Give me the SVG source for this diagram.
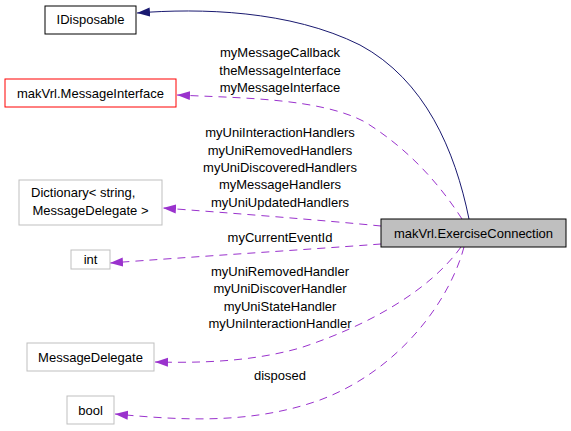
<svg xmlns="http://www.w3.org/2000/svg" width="571" height="431" viewBox="0 0 571 431">
<style>
.n rect{fill:#fff;stroke:#bfbfbf;stroke-width:1}
text{font-family:"Liberation Sans",Arial,sans-serif;font-size:13px;fill:#000}
.c{text-anchor:middle}
.e{fill:none;stroke:#9a32cd;stroke-width:1;stroke-dasharray:8,6}
.inh{fill:none;stroke:#191970;stroke-width:1}
</style>
<defs>
<marker id="ap" markerWidth="13" markerHeight="10" refX="13" refY="5" orient="auto" markerUnits="userSpaceOnUse"><path d="M0,0.5 L13,5 L0,9.5 Z" fill="#9a32cd"/></marker>
<marker id="an" markerWidth="13" markerHeight="10" refX="13" refY="5" orient="auto" markerUnits="userSpaceOnUse"><path d="M0,0.5 L13,5 L0,9.5 Z" fill="#191970"/></marker>
</defs>
<rect width="571" height="431" fill="#fff"/>
<g id="connectors">
<path class="inh" marker-end="url(#an)" d="M469,219 C455,150 425,80 360,45 C290,10 200,8 137,13"/>
<path class="e" marker-end="url(#ap)" d="M462,219 C440,185 410,150 365,122 C320,98 240,98 177,95"/>
<path class="e" marker-end="url(#ap)" d="M381,226 C320,220 230,213 163,208"/>
<path class="e" marker-end="url(#ap)" d="M381,244 C300,250 190,257 110,263"/>
<path class="e" marker-end="url(#ap)" d="M461,247 C430,290 370,325 300,348 C250,362 200,363 155,362"/>
<path class="e" marker-end="url(#ap)" d="M464,247 C450,300 400,370 320,400 C250,425 180,420 115,414"/>
<g id="labels">
<text class="c" x="280" y="57">myMessageCallback</text>
<text class="c" x="280" y="75">theMessageInterface</text>
<text class="c" x="280" y="92">myMessageInterface</text>
<text class="c" x="280" y="137">myUniInteractionHandlers</text>
<text class="c" x="280" y="155">myUniRemovedHandlers</text>
<text class="c" x="280" y="172">myUniDiscoveredHandlers</text>
<text class="c" x="280" y="189">myMessageHandlers</text>
<text class="c" x="280" y="207">myUniUpdatedHandlers</text>
<text class="c" x="280" y="242">myCurrentEventId</text>
<text class="c" x="280" y="276">myUniRemovedHandler</text>
<text class="c" x="280" y="293">myUniDiscoverHandler</text>
<text class="c" x="280" y="311">myUniStateHandler</text>
<text class="c" x="280" y="328">myUniInteractionHandler</text>
<text class="c" x="280" y="380">disposed</text>
</g>
</g>
<g id="node-ExerciseConnection"><rect x="381" y="219" width="185" height="28" fill="#bfbfbf" stroke="#000"/><text class="c" x="473.5" y="238">makVrl.ExerciseConnection</text></g>
<g id="node-IDisposable"><rect x="45" y="6" width="91" height="28" fill="#fff" stroke="#000"/><text class="c" x="90.5" y="24">IDisposable</text></g>
<g id="node-MessageInterface"><rect x="5" y="79" width="171" height="28" fill="#fff" stroke="#ff0000"/><text class="c" x="90.5" y="98">makVrl.MessageInterface</text></g>
<g id="node-Dictionary" class="n"><rect x="19" y="180" width="143" height="45"/><text x="31" y="197">Dictionary&lt; string,</text><text class="c" x="90.5" y="215">MessageDelegate &gt;</text></g>
<g id="node-int" class="n"><rect x="71" y="250" width="39" height="19"/><text class="c" x="90.5" y="264">int</text></g>
<g id="node-MessageDelegate" class="n"><rect x="27" y="343" width="127" height="28"/><text class="c" x="90.5" y="362">MessageDelegate</text></g>
<g id="node-bool" class="n"><rect x="67" y="396" width="47" height="28"/><text class="c" x="90.5" y="415">bool</text></g>
</svg>
